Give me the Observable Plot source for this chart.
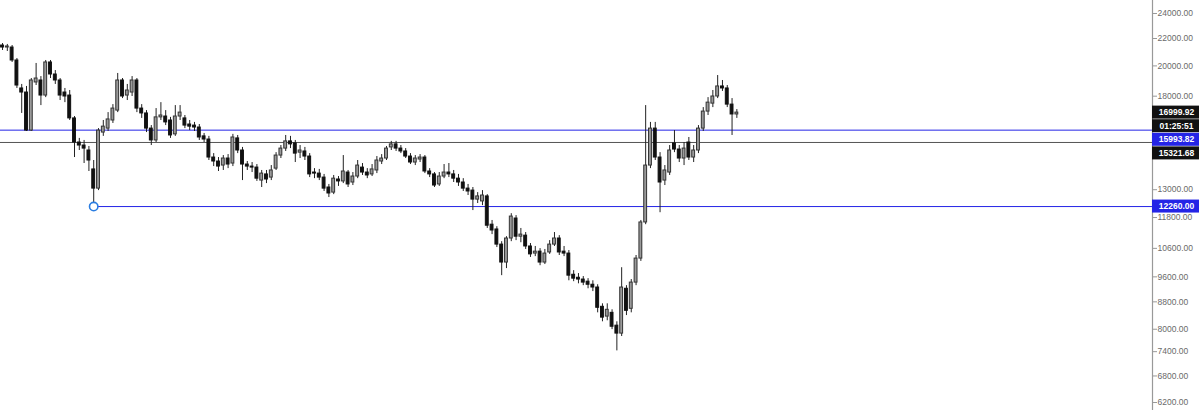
<!DOCTYPE html>
<html>
<head>
<meta charset="utf-8">
<script src="https://cdn.jsdelivr.net/npm/d3@7"></script>
<script src="https://cdn.jsdelivr.net/npm/@observablehq/plot@0.6"></script>
<style>
  html, body { margin: 0; padding: 0; background: #fff; }
  #chart svg { display: block; }
</style>
</head>
<body>
<div id="chart"></div>
<script>
// ---- Data ----
const open = [
  21470,21320,21320,20380,18490,18230,15970,18880,19010,18040,
  20240,19410,19010,18230,18040,16660,15320,15160,14900,13950,
  13050,15860,16080,16540,17120,19010,18040,18230,19010,17240,
  16950,16080,15430,16720,16770,16540,15760,16770,16660,16310,
  16250,16140,15650,15480,14540,14340,14140,14490,14240,15540,
  14900,14190,14090,14040,13420,13710,13560,13990,14640,15000,
  15380,15270,14790,14850,14590,13800,13750,13560,13100,12870,
  13470,13380,13800,13330,13610,14040,13800,13710,13900,14340,
  14490,15060,15220,15000,14850,14590,14290,14440,14540,13850,
  13710,13240,13610,13800,13710,13510,13330,13050,12960,12560,
  12480,12700,11510,11320,10740,10090,10970,11760,11040,11080,
  10670,10410,10480,10090,10450,10740,10970,10480,10410,9670,
  9570,9510,9440,9340,9250,8650,8360,8470,8100,7880,
  9210,8590,9410,10230,11600,14140,16080,14540,13420,13800,
  15270,14950,14490,15320,14540,14900,16080,17060,17540,17980,
  18620,18490,17480,16890
];
const high = [
  21620,21550,21470,20520,18750,18620,19140,20170,19270,20380,
  20380,19680,19140,18490,18360,16770,15540,15430,15110,14390,
  16080,16540,17000,17480,19480,19140,18750,19270,19140,17480,
  17120,16250,17240,17600,17120,16720,17420,17420,16830,16540,
  16430,16310,15810,15650,14740,14540,14640,14690,15760,15700,
  15060,14340,14290,14190,13900,13900,14140,14790,15160,15700,
  15650,15430,15160,15060,14740,13990,13950,13710,13240,13660,
  13610,14640,13900,13800,14390,14240,13990,14190,14590,14690,
  15110,15380,15380,15160,15000,14740,14640,14690,14640,13990,
  13800,13800,14190,14240,13900,13710,13510,13240,13100,12870,
  12960,12780,11680,11430,10850,11040,11960,11880,11360,11200,
  10780,10670,10590,10560,10890,11200,11080,10670,10520,9810,
  9710,9610,9540,9470,9340,8740,8740,8560,8210,9910,
  9310,9510,10340,11680,17420,16430,16430,14790,14140,15160,
  15970,15160,15320,15590,15160,16250,17300,17910,18360,19340,
  19010,18680,17850,17180
];
const low = [
  21100,21030,20240,18490,16950,15920,15920,18680,17420,17910,
  19140,18750,17730,17600,16540,14540,14900,14240,13850,12260,
  12960,15650,15920,16370,17000,17850,17730,17980,17000,16660,
  15860,15160,15320,16540,16250,15540,15650,16540,16080,15970,
  15920,15430,15320,14390,14090,13850,13900,13990,14090,14740,
  13420,13900,13800,13380,13100,13280,13420,13900,14490,14850,
  15000,14290,14490,14390,13560,13510,13420,12920,12650,12780,
  13150,13280,13100,13190,13510,13660,13510,13610,13750,14190,
  14390,14900,14850,14740,14490,14190,14140,14290,13750,13560,
  13100,13150,13510,13560,13330,13150,12920,12740,12090,12390,
  12300,11360,11120,10630,9640,9880,10850,10890,10810,10560,
  10270,10300,9980,10020,10380,10670,10340,10300,9470,9440,
  9370,9310,9210,9120,8470,8210,8240,7990,7420,7800,
  8390,8470,9310,10130,11510,13990,14390,12000,13190,13660,
  14790,14290,14140,14390,14290,14740,15920,16830,17300,17850,
  18300,17300,15700,16660
];
const close = [
  21320,21400,20380,18680,18230,15970,19010,19140,18040,20240,
  19410,19010,18040,17980,16660,15320,15160,15000,14390,13050,
  15970,16190,16600,17240,19010,17980,18360,19010,17240,16950,
  16080,15430,16720,16830,16430,15700,16770,17000,16250,16190,
  16140,15590,15480,14540,14340,14090,14490,14190,15590,14900,
  14190,14090,14040,13510,13750,13470,13900,14640,15000,15380,
  15220,14740,14900,14590,13710,13750,13560,13050,12830,13510,
  13380,13850,13240,13610,14140,13800,13660,13950,14390,14490,
  15000,15220,15000,14850,14590,14290,14490,14540,13850,13710,
  13190,13610,13800,13710,13510,13330,13050,12920,12560,12700,
  12740,11470,11280,10740,10090,10970,11840,11040,11120,10670,
  10380,10480,10090,10410,10740,10970,10450,10410,9640,9540,
  9510,9410,9340,9250,8620,8330,8560,8070,7880,9250,
  8530,9410,10230,11600,14140,16080,14540,13330,13900,14900,
  14950,14490,15000,14540,14900,16080,17060,17600,17980,18620,
  18490,17480,16890,16999.92
];

// Horizontal levels drawn on the chart
const levelUpper = 15993.82;   // blue line
const levelMid = 15321.68;     // grey line
const levelLow = 12260.00;     // blue line starting at the marked low
const lowAnchorIndex = 19;     // candle whose low is marked with the circle
const countdownText = "01:25:51";

// Y axis tick labels shown on the right
const yTicks = [24000, 22000, 20000, 18000, 13000, 11800, 10600, 9600, 8800, 8000, 7400, 6800, 6200];

// ---- Build ----
const BLUE = "#2424e6";
const W = 1199, H = 410, MR = 47;
const xMax = 239.6;
const rows = open.map((o, i) => ({i, open: o, high: high[i], low: low[i], close: close[i], up: close[i] >= o}));

const chart = Plot.plot({
  width: W, height: H,
  marginLeft: 0, marginRight: MR, marginTop: 0, marginBottom: 0,
  style: {fontFamily: "Liberation Sans, Arial, sans-serif", fontSize: "8.5px", background: "#fff"},
  x: {domain: [-0.42, xMax], axis: null},
  y: {type: "log", domain: [6030, 25110], axis: null},
  marks: [
    Plot.ruleY([levelUpper], {stroke: BLUE, strokeWidth: 1}),
    Plot.ruleY([levelMid], {stroke: "#555", strokeWidth: 1}),
    Plot.ruleY([{y: levelLow, x1: lowAnchorIndex, x2: xMax}], {y: "y", x1: "x1", x2: "x2", stroke: BLUE, strokeWidth: 1}),
    Plot.ruleX(rows, {x: "i", y1: "low", y2: "high", stroke: "#222", strokeWidth: 1}),
    Plot.rect(rows, {
      x1: d => d.i - 0.3, x2: d => d.i + 0.3,
      y1: "open", y2: "close",
      fill: d => d.up ? "#9a9a9a" : "#111",
      stroke: d => d.up ? "#333" : "#111", strokeWidth: 1
    }),
    Plot.dot([{i: lowAnchorIndex, y: levelLow}], {x: "i", y: "y", r: 4.2, stroke: "#2a7de1", fill: "#fff", strokeWidth: 1.6}),
    Plot.ruleX([xMax], {stroke: "#999", strokeWidth: 1.2}),
    Plot.axisY(yTicks, {
      anchor: "right", tickSize: 4, tickPadding: 1,
      tickFormat: d => d.toFixed(2),
      stroke: "#999", fill: "#6a6a6a"
    })
  ]
});

document.getElementById("chart").appendChild(chart);

// Price labels on the axis, stacked so they do not overlap
const yScale = chart.scale("y");
const svg = d3.select(chart);
const lastClose = close[close.length - 1];
const labels = [
  {value: lastClose, text: lastClose.toFixed(2), bg: "#111", fg: "#fff"},
  {value: null, text: countdownText, bg: "#111", fg: "#fff", attach: true},
  {value: levelUpper, text: levelUpper.toFixed(2), bg: BLUE, fg: "#fff"},
  {value: levelMid, text: levelMid.toFixed(2), bg: "#111", fg: "#fff"},
  {value: levelLow, text: levelLow.toFixed(2), bg: BLUE, fg: "#fff"}
];
const boxH = 13, gap = 13.6;
let prev = -Infinity;
const gLab = svg.append("g");
for (const lab of labels) {
  let cy = lab.attach ? prev + gap : Math.max(yScale.apply(lab.value), prev + gap);
  prev = cy;
  const x0 = W - MR;
  gLab.append("rect").attr("x", x0).attr("y", cy - boxH / 2).attr("width", MR).attr("height", boxH).attr("fill", lab.bg);
  gLab.append("text").attr("x", x0 + MR / 2 + 1).attr("y", cy).attr("dy", "0.35em")
    .attr("text-anchor", "middle").attr("fill", lab.fg)
    .attr("font-size", "8.5px").attr("font-weight", "bold")
    .text(lab.text);
}
</script>
</body>
</html>
